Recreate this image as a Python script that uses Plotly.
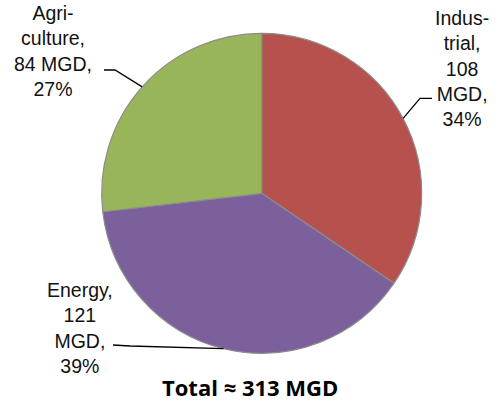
import math
import plotly.graph_objects as go

# Water withdrawals by sector (million gallons per day)
sectors = ["Industrial", "Energy", "Agriculture"]
label_names = ["Indus-<br>trial,<br>108", "Energy,<br>121", "Agri-<br>culture,<br>84"]
values = [108, 121, 84]
percents = [34, 39, 27]
colors = ["#B6514D", "#7B609B", "#99B55A"]

W, H = 499, 402
cx, cy, r = 261.7, 193.3, 160.0   # pie centre / radius in pixels


def px_to_paper(x, y):
    return x / W, 1 - y / H


fig = go.Figure(go.Pie(
    labels=sectors,
    values=values,
    sort=False,
    direction="clockwise",
    rotation=0,
    textinfo="none",
    hoverinfo="label+value+percent",
    marker=dict(colors=colors, line=dict(color="#8C8C8C", width=1.2)),
    domain=dict(x=[(cx - r) / W, (cx + r) / W],
                y=[(H - cy - r) / H, (H - cy + r) / H]),
    showlegend=False,
))

# label layout: text centre (px), elbow start / end (px)
text_pos = [(462, 69), (80, 328), (53, 51)]
elbows = [((432, 98.3), (420, 98.3)), ((113, 345), (130, 346)), ((104, 70), (115, 70))]
texts = [
    f"{label_names[0]}<br>MGD,<br>{percents[0]}%",
    f"{label_names[1]}<br>MGD,<br>{percents[1]}%",
    f"{label_names[2]} MGD,<br>{percents[2]}%",
]

total = sum(values)
shapes = []
annotations = []
start = 0.0
for i, v in enumerate(values):
    frac = v / total
    mid = (start + frac / 2) * 2 * math.pi
    start += frac
    ex = cx + r * math.sin(mid)
    ey = cy - r * math.cos(mid)
    (ax, ay), (bx, by) = elbows[i]
    pts = [(ax, ay), (bx, by), (ex, ey)]
    path = "M " + " L ".join(f"{px_to_paper(x, y)[0]:.5f},{px_to_paper(x, y)[1]:.5f}" for x, y in pts)
    shapes.append(dict(type="path", xref="paper", yref="paper", path=path,
                       line=dict(color="black", width=1.3)))
    tx, ty = px_to_paper(*text_pos[i])
    annotations.append(dict(
        x=tx, y=ty, xref="paper", yref="paper", text=texts[i], showarrow=False,
        xanchor="center", yanchor="middle", align="center",
        font=dict(family="Liberation Sans, Arial, sans-serif", size=19.5, color="#111111"),
    ))

tx, ty = px_to_paper(250, 386.5)
annotations.append(dict(
    x=tx, y=ty, xref="paper", yref="paper",
    text=f"<b>Total ≈ {total} MGD</b>", showarrow=False,
    xanchor="center", yanchor="middle",
    font=dict(family="Open Sans, sans-serif", size=22, color="#000000"),
))

fig.update_layout(
    width=W, height=H,
    margin=dict(l=0, r=0, t=0, b=0),
    paper_bgcolor="white", plot_bgcolor="white",
    shapes=shapes, annotations=annotations,
)

fig.write_html("out.html")
